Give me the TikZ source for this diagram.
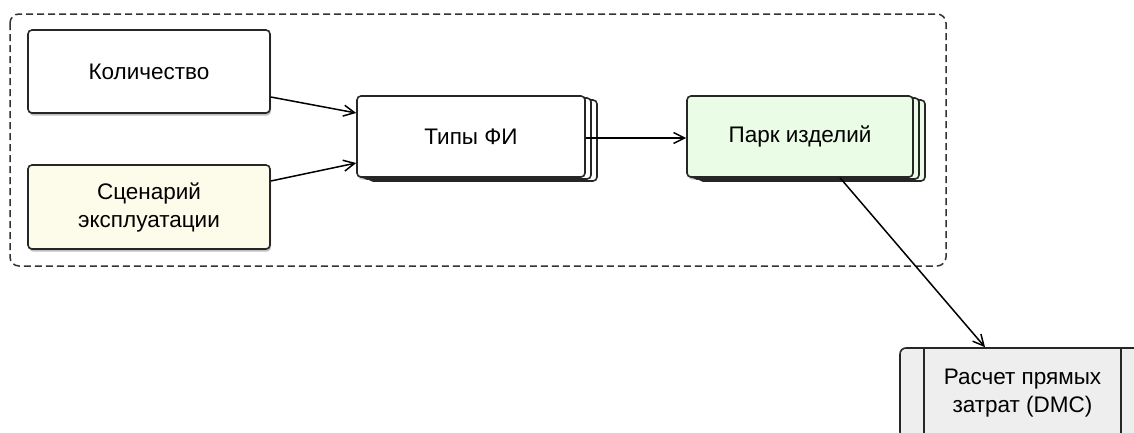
\documentclass[tikz,border=0pt]{standalone}
\usepackage{fontspec}
\setmainfont{Liberation Sans}
\usetikzlibrary{arrows.meta}
\usetikzlibrary{shadows}
\definecolor{scenfill}{RGB}{253,251,234}
\definecolor{parkfill}{RGB}{234,251,230}
\definecolor{dmcfill}{RGB}{238,238,238}
\tikzstyle{box}=[draw=black!85,line width=1.6pt,rounded corners=4pt,fill=white,align=center,inner sep=0pt,font=\fontsize{22.5}{28}\selectfont,drop shadow={shadow xshift=1pt,shadow yshift=-2.5pt,opacity=0.5}]
\tikzstyle{stack}=[box,double copy shadow={shadow xshift=6pt,shadow yshift=-2pt}]
\tikzstyle{arr}=[-{Straight Barb[length=11pt,width=11pt]},draw=black,line width=1.5pt]

\begin{document}
\begin{tikzpicture}[x=1pt,y=1pt]
  \useasboundingbox (0,0) rectangle (1134,-432);
  \clip (0,0) rectangle (1134,-432);
  \draw[dashed,dash pattern=on 7pt off 4pt,line width=1.5pt,draw=black!80,rounded corners=9pt] (10,-14) rectangle (946,-266);
  \node[box,minimum width=242pt,minimum height=83pt] (kol) at (149,-71.5) {Количество};
  \node[box,fill=scenfill,minimum width=242pt,minimum height=84pt] (scen) at (149,-207) {Сценарий\\эксплуатации};
  \node[stack,minimum width=228pt,minimum height=81pt] (tipy) at (471,-136.5) {Типы ФИ};
  \node[stack,fill=parkfill,minimum width=226pt,minimum height=81pt] (park) at (800,-136.5) {Парк изделий};
  \node[box,fill=dmcfill,rounded corners=6pt,minimum width=245pt,minimum height=90pt] (dmc) at (1022.5,-393) {Расчет прямых\\затрат (DMC)};
  \draw[line width=1.6pt,draw=black!85] ([xshift=25pt]dmc.north west) -- ([xshift=25pt]dmc.south west);
  \draw[line width=1.6pt,draw=black!85] ([xshift=-25pt]dmc.north east) -- ([xshift=-25pt]dmc.south east);
  \draw[arr] ([yshift=-25.5pt]kol.east) -- ([yshift=23.5pt]tipy.west);
  \draw[arr] ([yshift=26pt]scen.east) -- ([yshift=-26.5pt]tipy.west);
  \draw[arr] ([yshift=-1.5pt]tipy.east) -- ([yshift=-1.5pt]park.west);
  \draw[arr] ([xshift=40pt]park.south) -- ([xshift=-37.5pt]dmc.north);
\end{tikzpicture}
\end{document}
